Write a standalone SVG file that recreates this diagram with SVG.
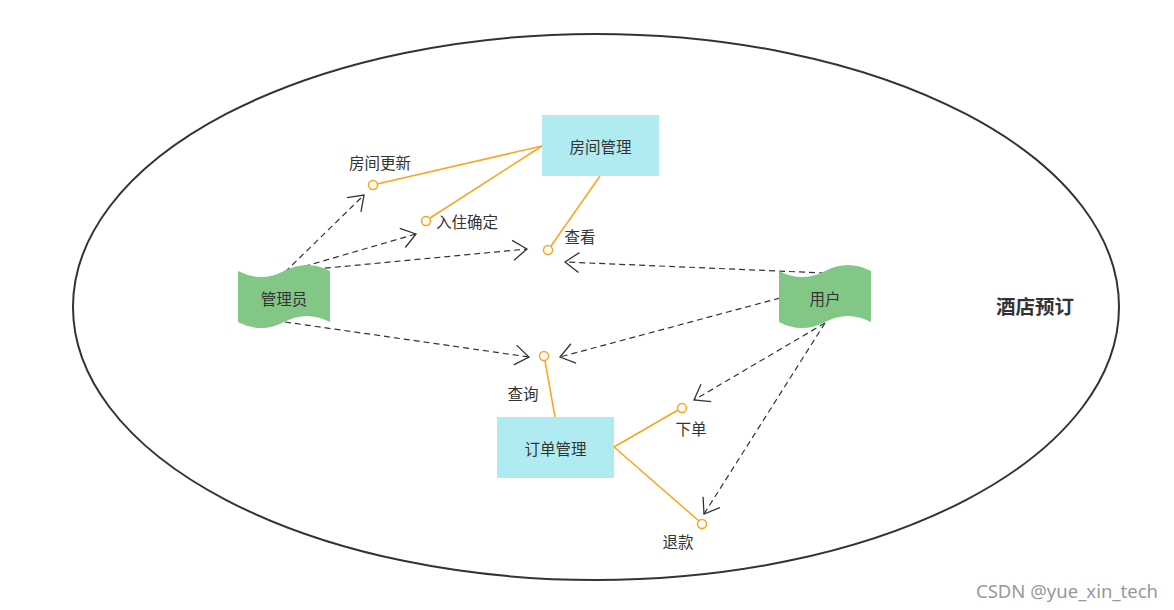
<svg xmlns="http://www.w3.org/2000/svg" width="1174" height="610" viewBox="0 0 1174 610">
<style>
text{font-family:"Noto Sans CJK SC","Noto Sans",sans-serif;fill:#333;font-size:15.5px}
.c{text-anchor:middle;dominant-baseline:central}
.box{fill:#b1ebf2;stroke:none}
.actor{fill:#82c785;stroke:none}
.port{fill:#fff;stroke:#ffa31a;stroke-width:1.5}
.ol{stroke:#ffa31a;stroke-width:1.5;fill:none}
.dl{stroke:#333;stroke-width:1.2;stroke-dasharray:6 4;fill:none;marker-end:url(#arr)}
</style>
<defs>
<marker id="arr" markerUnits="userSpaceOnUse" markerWidth="18" markerHeight="24" refX="15" refY="11" orient="auto">
<path d="M1,1 L15,11 L1,21" fill="none" stroke="#333" stroke-width="1.3"/>
</marker>
</defs>
<rect width="1174" height="610" fill="#fff"/>
<g id="system">
<ellipse cx="596" cy="307" rx="523" ry="273" fill="none" stroke="#333" stroke-width="2"/>
<text x="1035" y="305" class="c" style="font-weight:bold;font-size:19.5px">酒店预订</text>
</g>
<g id="connectors">
<line class="ol" x1="542" y1="146" x2="377" y2="184"/>
<line class="ol" x1="542" y1="146" x2="430" y2="218"/>
<line class="ol" x1="600" y1="176" x2="551" y2="246"/>
<line class="ol" x1="555" y1="417" x2="545" y2="361"/>
<line class="ol" x1="614" y1="447" x2="678" y2="410"/>
<line class="ol" x1="614" y1="447" x2="699" y2="521"/>
<line class="dl" x1="285" y1="272" x2="364" y2="195"/>
<line class="dl" x1="285" y1="272" x2="416" y2="234"/>
<line class="dl" x1="285" y1="272" x2="527" y2="249"/>
<line class="dl" x1="285" y1="322" x2="529" y2="357"/>
<line class="dl" x1="825" y1="273" x2="565" y2="262"/>
<line class="dl" x1="780" y1="298" x2="560" y2="357"/>
<line class="dl" x1="825" y1="323" x2="694" y2="400"/>
<line class="dl" x1="825" y1="323" x2="704" y2="514"/>
</g>
<g id="room-mgmt">
<rect class="box" x="542" y="115" width="117" height="61"/>
<text x="600.5" y="146" class="c">房间管理</text>
</g>
<g id="order-mgmt">
<rect class="box" x="497" y="417" width="117" height="61"/>
<text x="555.5" y="448" class="c">订单管理</text>
</g>
<g id="admin">
<path class="actor" d="M238,271 Q261,283 284,271 Q307,259 330,271 L330,322 Q307,310 284,322 Q261,334 238,322 Z"/>
<text x="284" y="298" class="c">管理员</text>
</g>
<g id="user">
<path class="actor" d="M779,271 Q802,283 825,271 Q848,259 871,271 L871,322 Q848,310 825,322 Q802,334 779,322 Z"/>
<text x="825" y="298" class="c">用户</text>
</g>
<g id="p-room-update">
<circle class="port" cx="373" cy="185" r="4.5"/>
<text x="380" y="162" class="c">房间更新</text>
</g>
<g id="p-checkin">
<circle class="port" cx="426" cy="221" r="4.5"/>
<text x="436" y="221" dominant-baseline="central">入住确定</text>
</g>
<g id="p-view">
<circle class="port" cx="548" cy="250" r="4.5"/>
<text x="580" y="236" class="c">查看</text>
</g>
<g id="p-query">
<circle class="port" cx="544" cy="356" r="4.5"/>
<text x="523" y="393" class="c">查询</text>
</g>
<g id="p-order">
<circle class="port" cx="682" cy="408" r="4.5"/>
<text x="691" y="428" class="c">下单</text>
</g>
<g id="p-refund">
<circle class="port" cx="702" cy="524" r="4.5"/>
<text x="678" y="541" class="c">退款</text>
</g>
<text x="1158" y="590" text-anchor="end" dominant-baseline="central" style="fill:#999;font-size:18.5px;font-family:'Noto Sans','Liberation Sans',sans-serif">CSDN @yue_xin_tech</text>
</svg>
